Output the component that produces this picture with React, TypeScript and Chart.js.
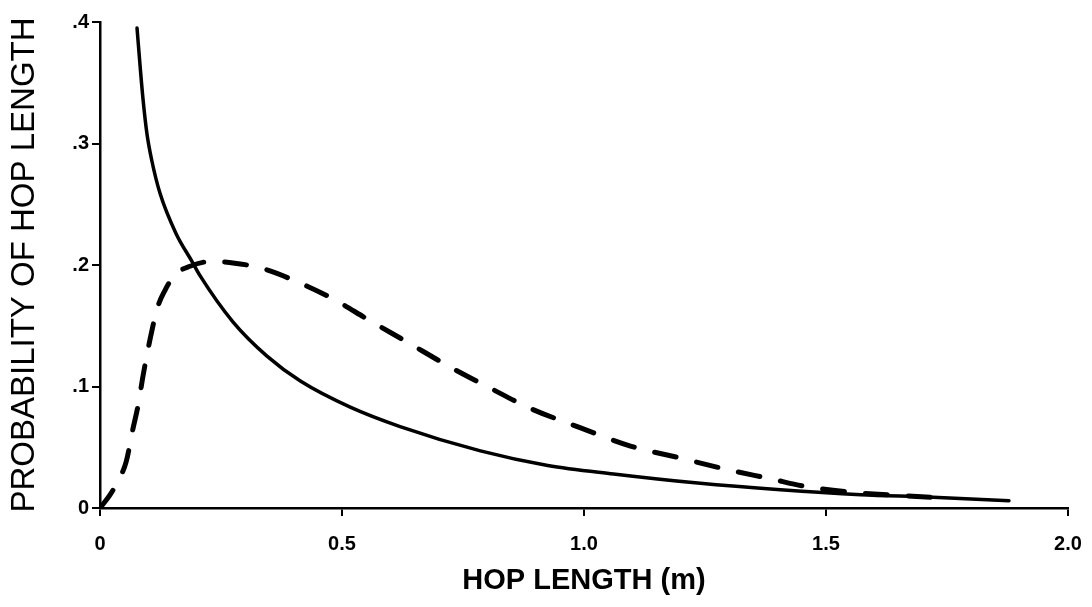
import React, { useEffect, useRef } from 'react';
import { Chart, registerables } from 'chart.js';

Chart.register(...registerables);

// Solid curve (HOP LENGTH in m, probability)
const solidX = [0.0765, 0.083, 0.089, 0.097, 0.107, 0.124, 0.157, 0.19, 0.207, 0.275, 0.345, 0.414, 0.517, 0.62, 0.786, 0.925, 1.061, 1.235, 1.406, 1.572, 1.71, 1.878];
const solidY = [0.395, 0.363, 0.336, 0.308, 0.286, 0.259, 0.226, 0.203, 0.191, 0.153, 0.125, 0.1045, 0.083, 0.067, 0.047, 0.035, 0.028, 0.0205, 0.015, 0.011, 0.009, 0.006];

// Dashed curve
const dashedX = [0, 0.021, 0.037, 0.054, 0.068, 0.079, 0.089, 0.103, 0.118, 0.134, 0.155, 0.186, 0.232, 0.304, 0.345, 0.397, 0.482, 0.554, 0.637, 0.728, 0.807, 0.889, 0.993, 1.096, 1.2, 1.303, 1.386, 1.454, 1.551, 1.648, 1.75];
const dashedY = [0, 0.011, 0.022, 0.038, 0.065, 0.085, 0.109, 0.138, 0.164, 0.179, 0.192, 0.199, 0.203, 0.2, 0.196, 0.188, 0.172, 0.155, 0.136, 0.115, 0.0985, 0.082, 0.066, 0.051, 0.041, 0.031, 0.024, 0.018, 0.013, 0.0105, 0.008];

const xTitle = 'HOP LENGTH (m)';
const yTitle = 'PROBABILITY OF HOP LENGTH';

const FONT = '"Liberation Sans", Arial, Helvetica, sans-serif';

export default function App() {
  const ref = useRef<HTMLCanvasElement | null>(null);

  useEffect(() => {
    if (!ref.current) return;
    const chart = new Chart(ref.current, {
      type: 'line',
      data: {
        datasets: [
          {
            data: solidX.map((x, i) => ({ x, y: solidY[i] })),
            borderColor: '#000',
            borderWidth: 3.5,
            pointRadius: 0,
            cubicInterpolationMode: 'monotone',
            borderCapStyle: 'round',
            fill: false,
          },
          {
            data: dashedX.map((x, i) => ({ x, y: dashedY[i] })),
            borderColor: '#000',
            borderWidth: 5,
            borderDash: [22, 21],
            borderCapStyle: 'round',
            pointRadius: 0,
            cubicInterpolationMode: 'monotone',
            fill: false,
          },
        ],
      },
      options: {
        responsive: false,
        animation: false,
        devicePixelRatio: 1,
        layout: { padding: { top: 22, right: 24, left: 0, bottom: 0 } },
        plugins: { legend: { display: false }, tooltip: { enabled: false } },
        scales: {
          x: {
            type: 'linear',
            min: 0,
            max: 2,
            afterFit: (s: any) => {
              s.height = 99;
              s.paddingRight = 10;
              s.paddingLeft = 10;
            },
            border: { display: true, color: '#000', width: 2.5 },
            grid: { drawOnChartArea: false, drawTicks: true, tickLength: 8, color: '#000', lineWidth: 2 },
            ticks: {
              stepSize: 0.5,
              color: '#000',
              padding: 16,
              maxRotation: 0,
              font: { family: FONT, size: 20, weight: 'bold' },
              callback: (v: any) => (Number(v) === 0 ? '0' : Number(v).toFixed(1)),
            },
            title: {
              display: true,
              text: xTitle,
              color: '#000',
              font: { family: FONT, size: 29, weight: 'bold' },
              padding: { top: 0, bottom: 9 },
            },
          },
          y: {
            type: 'linear',
            min: 0,
            max: 0.4,
            afterFit: (s: any) => { s.width = 100; },
            border: { display: true, color: '#000', width: 2.5 },
            grid: { drawOnChartArea: false, drawTicks: true, tickLength: 8, color: '#000', lineWidth: 2 },
            ticks: {
              stepSize: 0.1,
              color: '#000',
              padding: 3,
              font: { family: FONT, size: 20, weight: 'bold' },
              callback: (v: any) => {
                const n = Math.round(Number(v) * 10);
                return n === 0 ? '0' : '.' + n;
              },
            },
            title: {
              display: true,
              text: yTitle,
              color: '#000',
              font: { family: FONT, size: 33 },
              padding: { top: 5, bottom: 0 },
            },
          },
        },
      },
    });
    return () => chart.destroy();
  }, []);

  return (
    <div style={{ position: 'fixed', left: 0, top: 0, width: 1092, height: 607, background: '#fff' }}>
      <canvas ref={ref} width={1092} height={607} style={{ width: 1092, height: 607, display: 'block' }} />
    </div>
  );
}
